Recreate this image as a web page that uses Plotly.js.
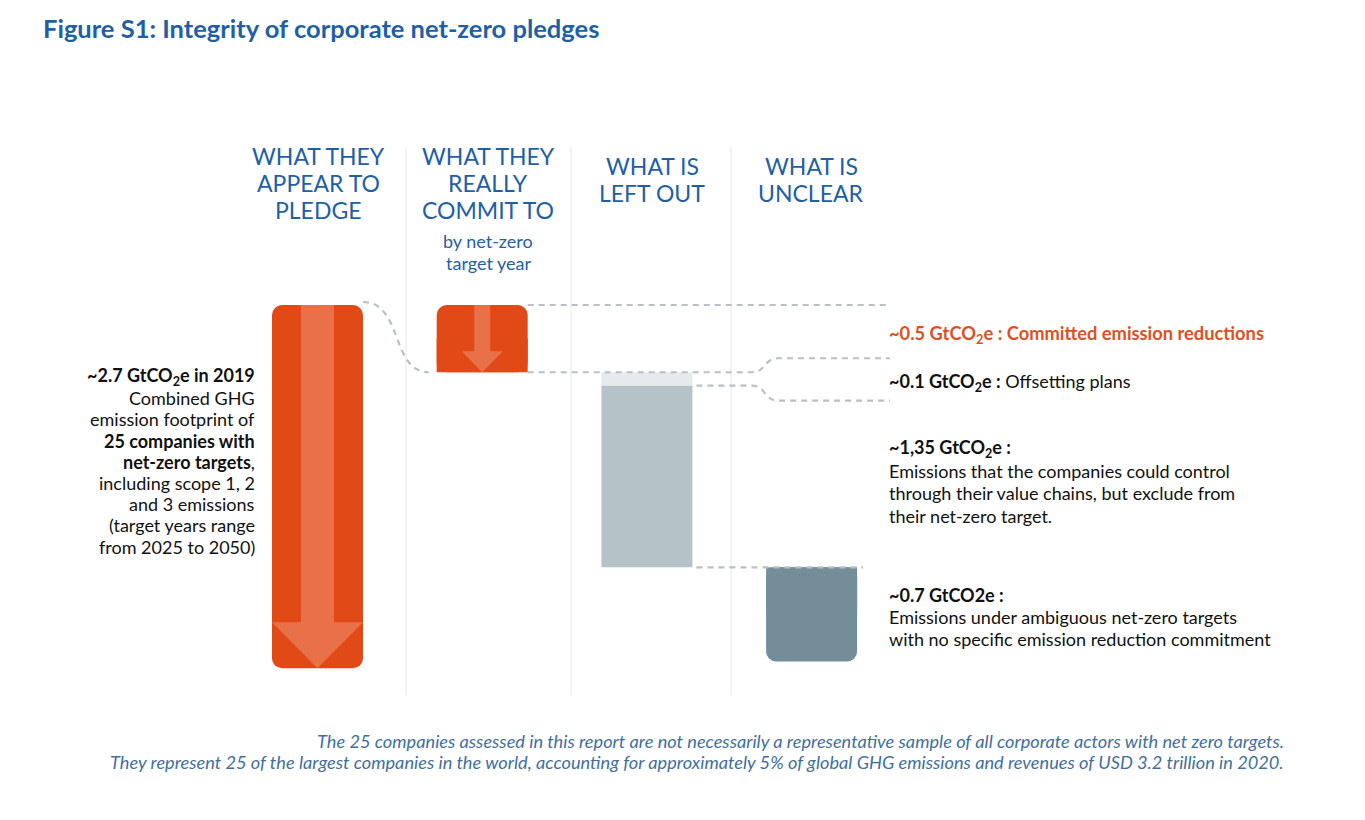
<!DOCTYPE html>
<html>
<head>
<meta charset="utf-8">
<script src="https://cdn.plot.ly/plotly-3.0.1.min.js"></script>
<style>html,body{margin:0;padding:0;background:#fff;}#chart{width:1365px;height:820px;}</style>
</head>
<body>
<div id="chart"></div>
<script>
// ---------------- DATA ----------------
const categories = ['WHAT THEY APPEAR TO PLEDGE', 'WHAT THEY REALLY COMMIT TO', 'WHAT IS LEFT OUT', 'WHAT IS UNCLEAR'];
const totalFootprint = 2.7;                 // GtCO2e in 2019, 25 companies
const segmentNames = ['Committed emission reductions', 'Offsetting plans', 'Emissions left out of targets', 'Ambiguous targets'];
const segmentValues = [0.5, 0.1, 1.35, 0.7]; // GtCO2e
const segmentColumn = [1, 2, 2, 3];          // index into categories

const headerLines = [
  ['WHAT THEY', 'APPEAR TO', 'PLEDGE'],
  ['WHAT THEY', 'REALLY', 'COMMIT TO'],
  ['WHAT IS', 'LEFT OUT'],
  ['WHAT IS', 'UNCLEAR']
];
const subHeaderLines = ['by net-zero', 'target year'];
// [text, bold]
const leftNoteLines = [
  ['~2.7 GtCO<sub>2</sub>e in 2019', true],
  ['Combined GHG', false],
  ['emission footprint of', false],
  ['25 companies with', true],
  ['<b>net-zero targets</b>,', false],
  ['including scope 1, 2', false],
  ['and 3 emissions', false],
  ['(target years range', false],
  ['from 2025 to 2050)', false]
];
const leftOutLines = ['Emissions that the companies could control', 'through their value chains, but exclude from', 'their net-zero target.'];
const unclearLines = ['Emissions under ambiguous net-zero targets', 'with no specific emission reduction commitment'];
const footnoteLines = [
  'The 25 companies assessed in this report are not necessarily a representative sample of all corporate actors with net zero targets.',
  'They represent 25 of the largest companies in the world, accounting for approximately 5% of global GHG emissions and revenues of USD 3.2 trillion in 2020.'
];

// ---------------- STYLE / LAYOUT CONSTANTS ----------------
const W = 1365, H = 820;
const FONT = 'Lato, "Open Sans", sans-serif';
const BLUE = '#1e5fa6';
const ORANGE = '#e14a17';
const ARROW = '#ea7049';
const segColors = ['#e14a17', '#e7eaec', '#b5c2c7', '#738e98'];
const DASH = '#b9c0c5';
const PX_PER_X = 164.7, X0_PX = 317.5;     // axis calibration
const PX_PER_Y = 134.5, YTOP_PX = 305;
const barW = 91 / PX_PER_X;
const RADIUS = 10;

const xd = px => (px - X0_PX) / PX_PER_X;
const ddx = p => p / PX_PER_X;
const ddy = p => p / PX_PER_Y;
const xRange = [xd(0), xd(W)];
const yRange = [totalFootprint - (H - YTOP_PX) / PX_PER_Y, totalFootprint + YTOP_PX / PX_PER_Y];

// ---------------- TRACES ----------------
const xs = categories.map((c, i) => i);
const traces = [];
function bar(xi, base, v, color, radius) {
  traces.push({
    type: 'bar', x: [xi], base: [base], y: [v], width: [barW],
    marker: {color: color, cornerradius: radius, line: {width: 0}}, hoverinfo: 'skip'
  });
}
// total bar (all corners rounded)
bar(xs[0], 0, totalFootprint, ORANGE, RADIUS);

// segments stacked downward from the total
const segTop = [], segBottom = [];
let cursor = totalFootprint;
segmentValues.forEach(v => { segTop.push(cursor); segBottom.push(cursor - v); cursor -= v; });
segmentValues.forEach((v, k) => {
  const xi = xs[segmentColumn[k]];
  if (k === 0) {                       // rounded top only
    bar(xi, segBottom[k], v, segColors[k], RADIUS);
    bar(xi, segBottom[k], v / 2, segColors[k], 0);
  } else if (k === segmentValues.length - 1) { // rounded bottom only
    bar(xi, segBottom[k], v, segColors[k], RADIUS);
    bar(xi, segBottom[k] + v / 2, v / 2, segColors[k], 0);
  } else {
    bar(xi, segBottom[k], v, segColors[k], 0);
  }
});

// ---------------- SHAPES ----------------
const shapes = [];
[406, 571, 731].forEach(px => shapes.push({
  type: 'line', xref: 'paper', yref: 'paper', x0: px / W, x1: px / W,
  y0: 1 - 147 / H, y1: 1 - 695 / H, line: {color: '#e4e7e9', width: 1}, layer: 'below'
}));

function arrowPath(cx, top, bottom, shaftHalf, headHalf, headH) {
  const hb = bottom + headH;
  return `M${cx - shaftHalf},${top} L${cx + shaftHalf},${top} L${cx + shaftHalf},${hb} L${cx + headHalf},${hb} ` +
         `L${cx},${bottom} L${cx - headHalf},${hb} L${cx - shaftHalf},${hb} Z`;
}
shapes.push({type: 'path', xref: 'x', yref: 'y', layer: 'above',
  path: arrowPath(xs[0], totalFootprint, 0, ddx(16.5), barW / 2, ddy(46)),
  fillcolor: ARROW, line: {width: 0}});
shapes.push({type: 'path', xref: 'x', yref: 'y', layer: 'above',
  path: arrowPath(xs[segmentColumn[0]], segTop[0], segBottom[0], ddx(8), ddx(20.5), ddy(21)),
  fillcolor: ARROW, line: {width: 0}});

// dashed connectors
const dashLine = {color: DASH, width: 2.2, dash: '6px,5px'};
const bigRight = xs[0] + barW / 2;
const redLeft = xs[segmentColumn[0]] - barW / 2, redRight = xs[segmentColumn[0]] + barW / 2;
const loRight = xs[segmentColumn[2]] + barW / 2;
const labelX = xd(890), bendA = xd(752), bendB = xd(778);
const p = (x, y) => `${x},${y}`;
const connectors = [
  `M${p(bigRight, totalFootprint + ddy(3))} C${p(bigRight + ddx(40), totalFootprint + ddy(3))} ${p(redLeft - ddx(46), segBottom[0])} ${p(redLeft - ddx(8), segBottom[0])}`,
  `M${p(redRight, segTop[0])} L${p(labelX, segTop[0])}`,
  `M${p(redRight, segBottom[0])} L${p(bendA, segBottom[0])} C${p(bendA + ddx(14), segBottom[0])} ${p(bendB - ddx(14), segBottom[0] + ddy(14))} ${p(bendB, segBottom[0] + ddy(14))} L${p(labelX, segBottom[0] + ddy(14))}`,
  `M${p(loRight + ddx(4), segBottom[1])} L${p(bendA, segBottom[1])} C${p(bendA + ddx(14), segBottom[1])} ${p(bendB - ddx(14), segBottom[1] - ddy(15))} ${p(bendB, segBottom[1] - ddy(15))} L${p(labelX, segBottom[1] - ddy(15))}`,
  `M${p(loRight + ddx(4), segBottom[2])} L${p(xd(863), segBottom[2])}`
];
connectors.forEach(path => shapes.push({type: 'path', xref: 'x', yref: 'y', path: path, line: dashLine, layer: 'above'}));

// ---------------- ANNOTATIONS ----------------
const ann = [];
function txt(text, x, y, o) {
  o = o || {};
  ann.push({text: text, xref: 'paper', yref: 'paper', x: x / W, y: 1 - y / H,
    xanchor: o.xanchor || 'left', yanchor: 'middle', showarrow: false, align: o.align || 'left',
    font: {family: FONT, size: o.size || 18, color: o.color || '#111', weight: o.bold ? 700 : 400,
           style: o.italic ? 'italic' : 'normal'}});
}
txt('Figure S1: Integrity of corporate net-zero pledges', 41, 28, {size: 25.5, color: BLUE, bold: true});

const headerCx = [318, 488, 652, 811];
const headerY0 = [156, 156, 166, 166];
headerLines.forEach((lines, i) => lines.forEach((l, j) =>
  txt(l, headerCx[i], headerY0[i] + 27 * j, {xanchor: 'center', size: 23, color: BLUE})));
subHeaderLines.forEach((l, j) => txt(l, 488, 241 + 22 * j, {xanchor: 'center', size: 18, color: BLUE}));

leftNoteLines.forEach((l, j) => txt(l[0], 257, 377 + 21.2 * j, {xanchor: 'right', size: 18, bold: l[1]}));

txt('~' + segmentValues[0] + ' GtCO<sub>2</sub>e : ' + segmentNames[0], 887, 335, {size: 18.3, color: '#e0501f', bold: true});
txt('<b>~' + segmentValues[1] + ' GtCO<sub>2</sub>e :</b> ' + segmentNames[1], 887, 382);
txt('~' + String(segmentValues[2]).replace('.', ',') + ' GtCO<sub>2</sub>e :', 887, 448, {bold: true});
leftOutLines.forEach((l, j) => txt(l, 887, 471 + 22.3 * j));
txt('~' + segmentValues[3] + ' GtCO2e :', 887, 595, {bold: true});
unclearLines.forEach((l, j) => txt(l, 887, 617 + 22 * j));

footnoteLines.forEach((l, j) => txt(l, 1286, 741 + 20.5 * j, {xanchor: 'right', size: 18.2, color: '#3f6fa0', italic: true}));

// ---------------- LAYOUT ----------------
const layout = {
  width: W, height: H,
  margin: {l: 0, r: 0, t: 0, b: 0, pad: 0},
  paper_bgcolor: '#ffffff', plot_bgcolor: '#ffffff',
  showlegend: false, barmode: 'overlay',
  xaxis: {range: xRange, visible: false, fixedrange: true},
  yaxis: {range: yRange, visible: false, fixedrange: true},
  shapes: shapes, annotations: ann,
  font: {family: FONT}
};
Plotly.newPlot('chart', traces, layout, {displayModeBar: false, staticPlot: true});
</script>
</body>
</html>
